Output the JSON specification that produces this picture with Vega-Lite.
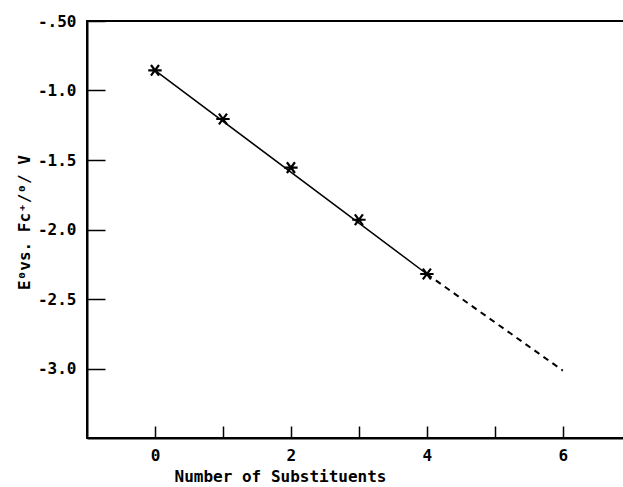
{
  "$schema": "https://vega.github.io/schema/vega-lite/v6.json",
  "autosize": {"type": "none"},
  "padding": {"left": 87, "top": 21, "right": 0, "bottom": 49},
  "width": 537,
  "height": 417,
  "background": "white",
  "config": {
    "view": {"stroke": "black", "strokeWidth": 2},
    "axis": {
      "grid": false,
      "domainColor": "black",
      "domainWidth": 2,
      "tickColor": "black",
      "tickWidth": 1.5,
      "labelFont": "DejaVu Sans Mono",
      "labelFontSize": 16,
      "labelFontWeight": "bold",
      "labelColor": "black",
      "titleFont": "DejaVu Sans Mono",
      "titleFontSize": 16,
      "titleFontWeight": "bold",
      "titleColor": "black"
    }
  },
  "datasets": {
    "measured": [
      {"n": 0, "E": -0.855},
      {"n": 1, "E": -1.205},
      {"n": 2, "E": -1.555},
      {"n": 3, "E": -1.93},
      {"n": 4, "E": -2.32}
    ],
    "fit": [
      {"n": 0, "E": -0.855},
      {"n": 4, "E": -2.32}
    ],
    "extrapolated": [
      {"n": 4, "E": -2.32},
      {"n": 6, "E": -3.015}
    ]
  },
  "layer": [
    {
      "data": {"name": "fit"},
      "mark": {"type": "line", "color": "black", "strokeWidth": 1.5},
      "encoding": {
        "x": {
          "field": "n", "type": "quantitative",
          "scale": {"domain": [-1, 6.9], "nice": false, "zero": false},
          "axis": {
            "values": [0, 1, 2, 3, 4, 5, 6],
            "labelExpr": "datum.value % 2 == 0 ? format(datum.value, 'd') : ''",
            "tickSize": -12,
            "labelPadding": 21,
            "title": "Number of Substituents",
            "titleX": 193,
            "titleY": 38,
            "titleBaseline": "middle",
            "titleAnchor": "start",
            "titleAlign": "center"
          }
        },
        "y": {
          "field": "E", "type": "quantitative",
          "scale": {"domain": [-3.5, -0.5], "nice": false, "zero": false},
          "axis": {
            "values": [-3, -2.5, -2, -1.5, -1, -0.5],
            "labelExpr": "datum.value == -0.5 ? '-.50' : '-' + format(abs(datum.value), '.1f')",
            "tickSize": -18,
            "labelPadding": 29,
            "title": "E⁰vs. Fc⁺/⁰/ V",
            "titleX": -63,
            "titleY": 201,
            "titleBaseline": "middle",
            "titleAlign": "center",
            "titleAnchor": "start"
          }
        }
      }
    },
    {
      "data": {"name": "extrapolated"},
      "mark": {"type": "line", "color": "black", "strokeWidth": 2, "strokeDash": [6, 5]},
      "encoding": {
        "x": {"field": "n", "type": "quantitative"},
        "y": {"field": "E", "type": "quantitative"}
      }
    },
    {
      "data": {"name": "measured"},
      "mark": {
        "type": "point",
        "shape": "M-1,0L1,0M-0.6,-0.8L0.6,0.8M-0.6,0.8L0.6,-0.8",
        "size": 180,
        "stroke": "black",
        "strokeWidth": 2.2,
        "filled": false,
        "opacity": 1
      },
      "encoding": {
        "x": {"field": "n", "type": "quantitative"},
        "y": {"field": "E", "type": "quantitative"}
      }
    }
  ]
}
